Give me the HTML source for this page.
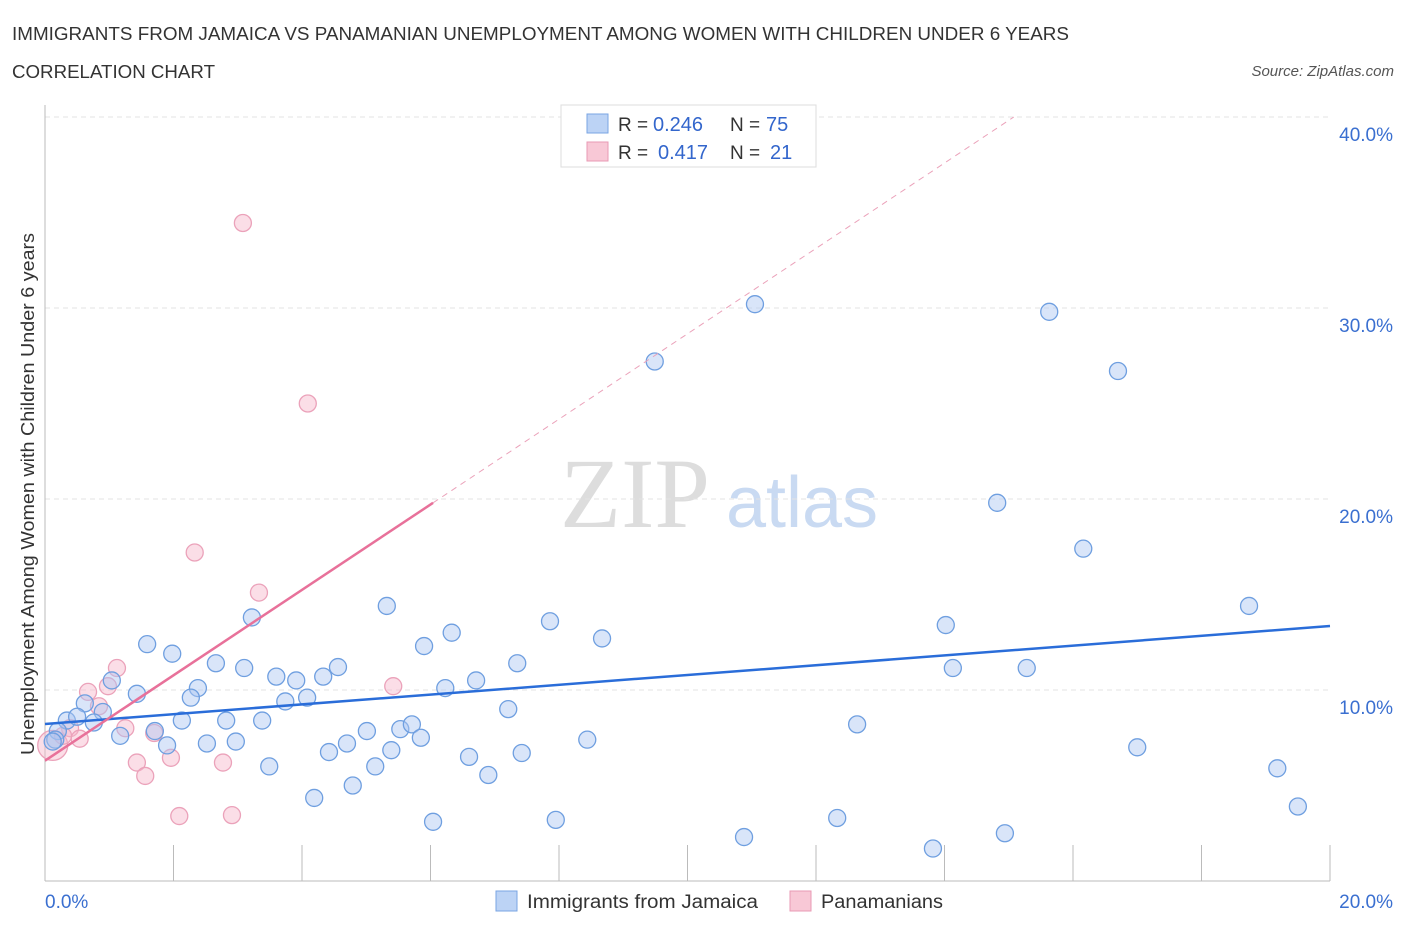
<!DOCTYPE html>
<html><head><meta charset="utf-8"><style>
body{margin:0;background:#fff;font-family:"Liberation Sans",sans-serif;}
svg text{font-family:"Liberation Sans",sans-serif;}
</style></head><body>
<svg id="chart" width="1406" height="930" xmlns="http://www.w3.org/2000/svg">
<text x="12" y="40" font-size="18" fill="#333" textLength="1057" lengthAdjust="spacingAndGlyphs">IMMIGRANTS FROM JAMAICA VS PANAMANIAN UNEMPLOYMENT AMONG WOMEN WITH CHILDREN UNDER 6 YEARS</text>
<text x="12" y="78" font-size="18" fill="#333" textLength="203" lengthAdjust="spacingAndGlyphs">CORRELATION CHART</text>
<text x="1394" y="76" font-size="15" fill="#555" font-style="italic" text-anchor="end">Source: ZipAtlas.com</text>
<g>
<text x="635" y="527" font-size="100" fill="#ddd" style="font-family:'Liberation Serif',serif" text-anchor="middle">ZIP</text>
<text x="802" y="527" font-size="72" fill="#c9daf2" text-anchor="middle">atlas</text>
</g>
<g id="grid"></g><g id="axes"></g><g id="marks"></g>
<text transform="translate(34,494) rotate(-90)" font-size="18" fill="#333" text-anchor="middle" textLength="522" lengthAdjust="spacingAndGlyphs">Unemployment Among Women with Children Under 6 years</text>
<g>
<rect x="561" y="105" width="255" height="62" fill="#fff" stroke="#ddd"/>
<rect x="587" y="114" width="21" height="19" fill="#bcd3f5" stroke="#7aa5e3"/>
<rect x="587" y="142" width="21" height="19" fill="#f8c8d6" stroke="#e89ab4"/>
<text x="618" y="131" font-size="19" fill="#333">R =</text>
<text x="653" y="131" font-size="20" fill="#3366cc">0.246</text>
<text x="730" y="131" font-size="19" fill="#333">N =</text>
<text x="766" y="131" font-size="20" fill="#3366cc">75</text>
<text x="618" y="159" font-size="19" fill="#333">R =</text>
<text x="658" y="159" font-size="20" fill="#3366cc">0.417</text>
<text x="730" y="159" font-size="19" fill="#333">N =</text>
<text x="770" y="159" font-size="20" fill="#3366cc">21</text>
</g>
<g>
<rect x="496" y="891" width="21" height="20" fill="#bcd3f5" stroke="#7aa5e3"/>
<text x="527" y="908" font-size="19" fill="#333" textLength="231" lengthAdjust="spacingAndGlyphs">Immigrants from Jamaica</text>
<rect x="790" y="891" width="21" height="20" fill="#f8c8d6" stroke="#e89ab4"/>
<text x="821" y="908" font-size="19" fill="#333" textLength="122" lengthAdjust="spacingAndGlyphs">Panamanians</text>
</g>
</svg>
<script>
const blueX=[11.05,9.49,15.63,16.70,14.82,16.16,18.74,14.02,14.13,15.28,12.64,17.0,19.18,19.5,14.94,12.33,13.82,10.88,7.95,6.04,8.67,7.86,7.35,6.71,6.33,6.23,5.90,5.32,4.56,4.33,3.91,3.60,4.08,3.74,3.22,3.10,2.66,2.38,2.27,2.13,1.98,1.59,1.43,1.04,0.62,0.90,0.76,0.34,0.50,0.20,0.16,1.17,1.71,1.90,2.52,2.97,2.82,3.38,3.49,4.19,4.42,4.70,4.79,5.01,5.14,5.39,5.53,5.71,5.85,6.60,6.90,7.21,7.42,8.44,0.12];
const blueY=[30.2,27.2,29.8,26.7,19.8,17.4,14.4,13.4,11.15,11.15,8.2,7.0,5.9,3.9,2.5,3.3,1.7,2.3,3.2,3.1,12.7,13.6,11.4,10.5,13.0,10.1,12.3,14.4,11.2,10.7,10.5,10.7,9.6,9.4,13.8,11.15,11.4,10.1,9.6,8.4,11.9,12.4,9.8,10.5,9.3,8.85,8.3,8.4,8.6,7.85,7.4,7.6,7.85,7.1,7.2,7.3,8.4,8.4,6.0,4.35,6.75,7.2,5.0,7.85,6.0,6.85,7.95,8.2,7.5,6.5,5.55,9.0,6.7,7.4,7.3];
const pinkX=[3.08,4.09,2.33,3.33,5.42,1.12,0.67,0.98,0.84,0.39,0.54,1.70,1.43,1.96,1.56,2.77,2.09,2.91,0.12,0.28,1.25];
const pinkY=[34.45,25.0,17.2,15.1,10.2,11.15,9.9,10.2,9.15,8.0,7.45,7.75,6.2,6.45,5.5,6.2,3.4,3.45,7.1,7.6,8.0];
const blueTrend=[8.22,13.35];
const pinkTrend=[6.3,2.235];
const xTicks=["0.0%","20.0%"];
const yTicks=[10,20,30,40];
const NS="http://www.w3.org/2000/svg";
const sx=v=>45+v*64.25, sy=v=>881-v*19.1;
function mk(tag,attrs,parent){const e=document.createElementNS(NS,tag);for(const k in attrs)e.setAttribute(k,attrs[k]);parent.appendChild(e);return e;}
const grid=document.getElementById('grid'),axes=document.getElementById('axes'),marks=document.getElementById('marks');
yTicks.forEach(t=>{
 const l=mk('line',{x1:45,x2:1330,y1:sy(t),y2:sy(t),stroke:'#e3e3e3','stroke-dasharray':'5,4'},grid);
 
 
 const tx=mk('text',{x:1393,y:sy(t)+24,'font-size':19,fill:'#3a6fd0','text-anchor':'end'},axes);
 tx.textContent=t.toFixed(1)+'%';
 
 
});
const ax=mk('line',{x1:45,x2:1330,y1:881,y2:881,stroke:'#bbb'},axes);


const ay=mk('line',{x1:45,x2:45,y1:105,y2:881,stroke:'#bbb'},axes);


for(let i=0;i<=10;i++){
 const t=mk('line',{x1:sx(i*2),x2:sx(i*2),y1:845,y2:881,stroke:'#bbb'},axes);
 
 
}
xTicks.forEach((s,i)=>{
 const tx=mk('text',{x:i?1393:45,y:908,'font-size':19,fill:'#3a6fd0','text-anchor':i?'end':'start'},axes);
 tx.textContent=s;
 
 
});
function dots(X,Y,fill,stroke,name,big){
 X.forEach((x,i)=>{
  const r=(big&&x<0.2)?15:8.5;
  const c=mk('circle',{cx:sx(x),cy:sy(Y[i]),r:r,fill:fill,stroke:stroke,'stroke-width':1.3},marks);
  
  
 });
}
dots(pinkX,pinkY,'rgba(246,182,202,0.45)','#eba2ba','pink-point',true);
dots(blueX,blueY,'rgba(170,198,242,0.45)','#6f9fe0','blue-point',false);
const bl=mk('line',{x1:sx(0),y1:sy(blueTrend[0]),x2:sx(20),y2:sy(blueTrend[1]),stroke:'#2a6dd9','stroke-width':2.5},marks);


const pe=6.04, pd=(40-pinkTrend[0])/pinkTrend[1];
const pl=mk('line',{x1:sx(0),y1:sy(pinkTrend[0]),x2:sx(pe),y2:sy(pinkTrend[0]+pinkTrend[1]*pe),stroke:'#e8719a','stroke-width':2.5},marks);


const pdl=mk('line',{x1:sx(pe),y1:sy(pinkTrend[0]+pinkTrend[1]*pe),x2:sx(pd),y2:sy(40),stroke:'#eba2ba','stroke-width':1,'stroke-dasharray':'6,5'},marks);


</script>
</body></html>
